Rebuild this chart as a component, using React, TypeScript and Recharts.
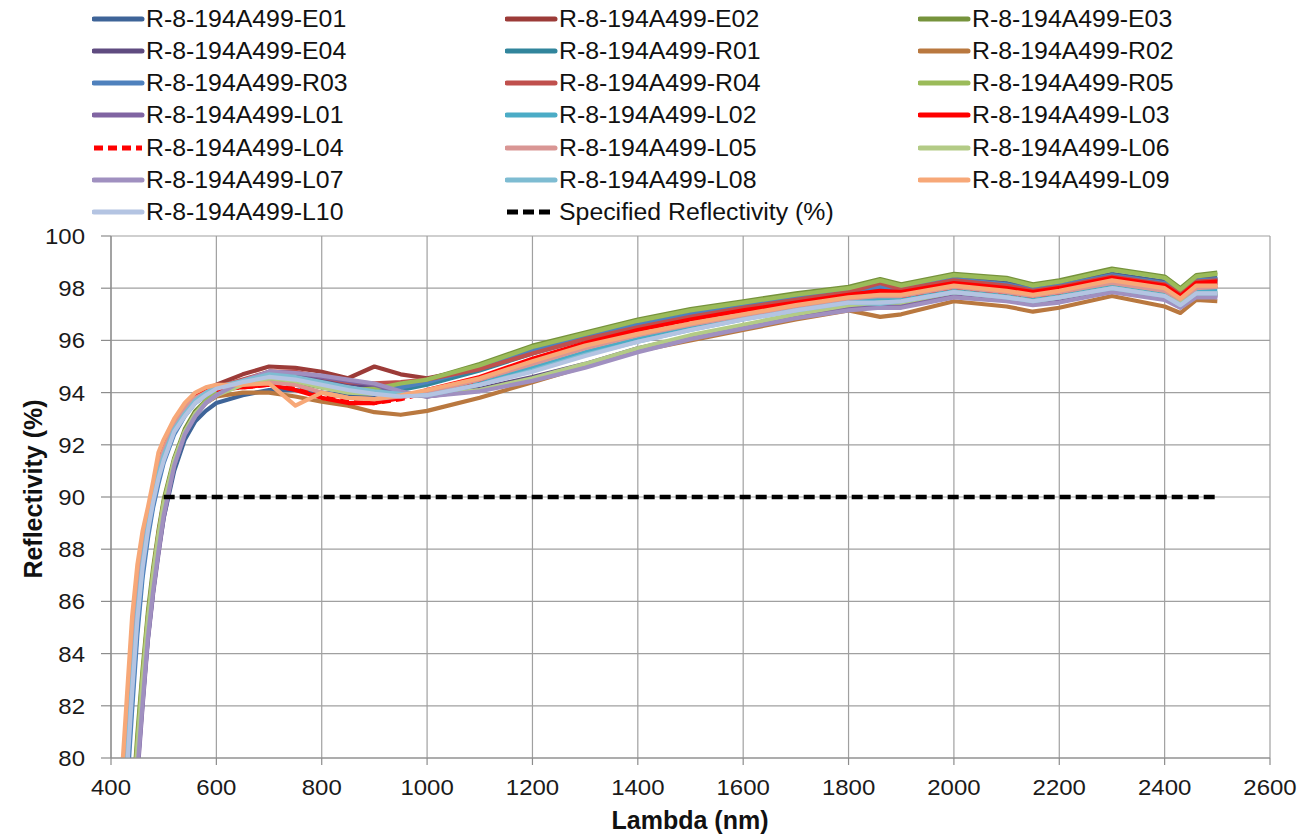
import React from "react";
import { LineChart, Line, XAxis, YAxis, CartesianGrid } from "recharts";

// wavelength samples (nm)
const LAMBDA = [420, 430, 440, 450, 460, 470, 480, 490, 500, 520, 540, 560, 580, 600, 650, 700, 750, 800, 850, 900, 950, 1000, 1100, 1200, 1300, 1400, 1500, 1600, 1700, 1800, 1860, 1900, 2000, 2100, 2150, 2200, 2300, 2400, 2430, 2460, 2500];

const E01 = [70.5, 73.5, 76.8, 79.6, 82.2, 84.6, 86.4, 87.9, 89.2, 91.0, 92.2, 92.9, 93.3, 93.6, 93.9, 94.1, 94.1, 94.0, 93.9, 93.9, 94.2, 94.4, 95.0, 95.65, 96.2, 96.65, 97.05, 97.4, 97.7, 97.95, 98.1, 98.05, 98.4, 98.2, 98.0, 98.15, 98.55, 98.25, 97.85, 98.35, 98.4];
const E02 = [76.0, 79.5, 82.6, 85.4, 87.4, 88.8, 89.9, 90.8, 91.5, 92.6, 93.3, 93.8, 94.1, 94.3, 94.7, 95.0, 94.95, 94.8, 94.55, 95.0, 94.7, 94.55, 94.95, 95.55, 96.1, 96.55, 96.95, 97.3, 97.6, 97.9, 98.1, 98.0, 98.35, 98.15, 97.95, 98.1, 98.5, 98.2, 97.85, 98.3, 98.35];
const E03 = [71.5, 74.8, 78.0, 80.9, 83.4, 85.6, 87.3, 88.7, 89.9, 91.5, 92.6, 93.3, 93.7, 94.0, 94.3, 94.5, 94.4, 94.2, 94.05, 94.1, 94.3, 94.5, 95.1, 95.8, 96.3, 96.8, 97.2, 97.5, 97.8, 98.05, 98.35, 98.15, 98.55, 98.4, 98.15, 98.3, 98.75, 98.45, 98.0, 98.5, 98.6];
const E04 = [70.8, 74.0, 77.2, 80.1, 82.7, 85.0, 86.8, 88.3, 89.6, 91.3, 92.5, 93.2, 93.7, 94.0, 94.4, 94.7, 94.65, 94.5, 94.35, 94.2, 93.95, 93.85, 94.15, 94.6, 95.1, 95.7, 96.15, 96.55, 96.95, 97.25, 97.35, 97.35, 97.75, 97.6, 97.45, 97.55, 97.95, 97.65, 97.35, 97.75, 97.75];
const R01 = [75.5, 79.0, 82.2, 85.0, 87.1, 88.6, 89.7, 90.6, 91.4, 92.5, 93.2, 93.7, 94.0, 94.2, 94.4, 94.6, 94.5, 94.3, 94.1, 94.0, 94.1, 94.3, 94.85, 95.5, 96.05, 96.5, 96.9, 97.25, 97.55, 97.85, 97.95, 97.9, 98.25, 98.05, 97.85, 98.0, 98.4, 98.1, 97.7, 98.15, 98.2];
const R02 = [71.0, 74.3, 77.6, 80.5, 83.1, 85.4, 87.1, 88.6, 89.8, 91.4, 92.5, 93.2, 93.6, 93.85, 94.0, 94.0, 93.85, 93.65, 93.5, 93.25, 93.15, 93.3, 93.8, 94.4, 95.0, 95.6, 96.0, 96.4, 96.8, 97.15, 96.9, 97.0, 97.5, 97.3, 97.1, 97.25, 97.7, 97.3, 97.05, 97.55, 97.5];
const R03 = [75.0, 78.6, 81.8, 84.7, 86.9, 88.4, 89.6, 90.5, 91.3, 92.4, 93.1, 93.6, 93.9, 94.1, 94.35, 94.55, 94.5, 94.3, 94.15, 94.05, 94.2, 94.4, 94.95, 95.6, 96.15, 96.6, 97.0, 97.35, 97.65, 97.9, 98.05, 98.0, 98.35, 98.15, 97.95, 98.1, 98.5, 98.2, 97.8, 98.3, 98.35];
const R04 = [76.5, 80.0, 83.0, 85.7, 87.6, 88.9, 90.0, 90.9, 91.6, 92.6, 93.2, 93.7, 94.0, 94.2, 94.5, 94.8, 94.8, 94.6, 94.4, 94.35, 94.4, 94.5, 94.9, 95.5, 96.05, 96.5, 96.9, 97.25, 97.55, 97.85, 98.2, 97.95, 98.3, 98.1, 97.9, 98.05, 98.45, 98.15, 97.8, 98.25, 98.3];
const R05 = [71.2, 74.5, 77.7, 80.6, 83.2, 85.4, 87.1, 88.5, 89.8, 91.4, 92.5, 93.2, 93.7, 94.0, 94.3, 94.55, 94.5, 94.3, 94.1, 94.15, 94.35, 94.5, 95.05, 95.75, 96.25, 96.75, 97.15, 97.45, 97.75, 98.0, 98.3, 98.1, 98.5, 98.35, 98.1, 98.25, 98.7, 98.4, 97.95, 98.45, 98.55];
const L01 = [70.0, 73.2, 76.5, 79.3, 82.0, 84.5, 86.3, 87.8, 89.2, 91.2, 92.4, 93.1, 93.6, 93.9, 94.4, 94.8, 94.75, 94.6, 94.45, 94.3, 94.0, 93.85, 94.1, 94.5, 95.0, 95.6, 96.1, 96.5, 96.9, 97.2, 97.3, 97.3, 97.7, 97.55, 97.4, 97.5, 97.9, 97.6, 97.3, 97.7, 97.7];
const L02 = [76.0, 79.6, 82.7, 85.4, 87.4, 88.8, 89.9, 90.8, 91.5, 92.6, 93.2, 93.7, 94.0, 94.2, 94.4, 94.65, 94.55, 94.3, 94.1, 94.0, 93.9, 93.95, 94.4, 94.95, 95.55, 96.05, 96.5, 96.9, 97.25, 97.55, 97.6, 97.6, 97.95, 97.75, 97.6, 97.75, 98.1, 97.8, 97.45, 97.9, 97.9];
const L03 = [78.5, 81.8, 84.8, 87.0, 88.4, 89.4, 90.4, 91.4, 92.0, 92.9, 93.5, 93.9, 94.1, 94.2, 94.2, 94.3, 94.1, 93.8, 93.6, 93.6, 93.8, 94.1, 94.6, 95.3, 95.9, 96.4, 96.8, 97.15, 97.45, 97.75, 97.9, 97.85, 98.2, 98.0, 97.85, 98.0, 98.4, 98.1, 97.7, 98.2, 98.25];
const L04 = [78.0, 81.4, 84.4, 86.7, 88.2, 89.3, 90.3, 91.3, 91.9, 92.8, 93.4, 93.8, 94.0, 94.1, 94.2, 94.3, 94.15, 93.85, 93.65, 93.6, 93.75, 94.0, 94.5, 95.15, 95.75, 96.25, 96.65, 97.0, 97.3, 97.6, 97.75, 97.7, 98.05, 97.85, 97.7, 97.85, 98.25, 97.95, 97.6, 98.05, 98.1];
const L05 = [77.8, 81.2, 84.2, 86.6, 88.1, 89.2, 90.2, 91.2, 91.8, 92.8, 93.4, 93.8, 94.0, 94.2, 94.3, 94.4, 94.3, 94.0, 93.8, 93.75, 93.85, 94.0, 94.5, 95.1, 95.7, 96.2, 96.6, 96.95, 97.3, 97.6, 97.7, 97.7, 98.05, 97.85, 97.7, 97.85, 98.2, 97.9, 97.55, 98.0, 98.05];
const L06 = [71.0, 74.2, 77.4, 80.3, 82.9, 85.2, 87.0, 88.5, 89.7, 91.4, 92.5, 93.2, 93.6, 93.9, 94.3, 94.55, 94.45, 94.2, 94.0, 93.95, 93.9, 93.9, 94.1, 94.55, 95.1, 95.7, 96.2, 96.6, 97.0, 97.35, 97.45, 97.45, 97.85, 97.65, 97.5, 97.65, 98.0, 97.7, 97.4, 97.8, 97.8];
const L07 = [70.2, 73.4, 76.7, 79.5, 82.1, 84.6, 86.4, 87.9, 89.3, 91.2, 92.4, 93.1, 93.6, 93.9, 94.45, 94.8, 94.75, 94.65, 94.5, 94.35, 94.05, 93.85, 94.05, 94.45, 94.95, 95.55, 96.05, 96.45, 96.85, 97.15, 97.25, 97.25, 97.65, 97.5, 97.35, 97.45, 97.85, 97.55, 97.25, 97.65, 97.65];
const L08 = [76.2, 79.8, 82.9, 85.6, 87.5, 88.9, 90.0, 90.9, 91.6, 92.6, 93.2, 93.7, 94.0, 94.2, 94.45, 94.7, 94.6, 94.4, 94.2, 94.05, 93.95, 93.9, 94.3, 94.85, 95.45, 95.95, 96.4, 96.8, 97.15, 97.45, 97.4, 97.5, 97.85, 97.65, 97.5, 97.65, 98.0, 97.7, 97.35, 97.8, 97.8];
const L09 = [79.2, 82.3, 85.4, 87.4, 88.7, 89.6, 90.6, 91.7, 92.2, 93.0, 93.6, 94.0, 94.2, 94.3, 94.3, 94.35, 93.5, 94.0, 93.8, 93.75, 93.9, 94.1, 94.55, 95.2, 95.8, 96.25, 96.65, 97.0, 97.35, 97.65, 97.75, 97.75, 98.1, 97.9, 97.75, 97.9, 98.3, 98.0, 97.6, 98.1, 98.1];
const L10 = [75.8, 79.4, 82.5, 85.3, 87.3, 88.7, 89.8, 90.7, 91.4, 92.5, 93.1, 93.6, 93.9, 94.15, 94.4, 94.6, 94.5, 94.3, 94.1, 93.95, 93.85, 93.9, 94.3, 94.8, 95.4, 95.95, 96.4, 96.8, 97.15, 97.45, 97.45, 97.5, 97.85, 97.65, 97.5, 97.65, 98.0, 97.7, 97.35, 97.8, 97.8];
// specified reflectivity, 500 - 2500 nm
const SPEC = [null, null, null, null, null, null, null, null, 90, 90, 90, 90, 90, 90, 90, 90, 90, 90, 90, 90, 90, 90, 90, 90, 90, 90, 90, 90, 90, 90, 90, 90, 90, 90, 90, 90, 90, 90, 90, 90, 90];

const X_TICKS = [400, 600, 800, 1000, 1200, 1400, 1600, 1800, 2000, 2200, 2400, 2600];
const Y_TICKS = [80, 82, 84, 86, 88, 90, 92, 94, 96, 98, 100];

const SERIES = [
  { key: "E01", name: "R-8-194A499-E01", values: E01, color: "#3E6498" },
  { key: "E02", name: "R-8-194A499-E02", values: E02, color: "#9C3B38" },
  { key: "E03", name: "R-8-194A499-E03", values: E03, color: "#76933C" },
  { key: "E04", name: "R-8-194A499-E04", values: E04, color: "#5F4B80" },
  { key: "R01", name: "R-8-194A499-R01", values: R01, color: "#31859C" },
  { key: "R02", name: "R-8-194A499-R02", values: R02, color: "#B9783F" },
  { key: "R03", name: "R-8-194A499-R03", values: R03, color: "#4F81BD" },
  { key: "R04", name: "R-8-194A499-R04", values: R04, color: "#C0504D" },
  { key: "R05", name: "R-8-194A499-R05", values: R05, color: "#9BBB59" },
  { key: "L01", name: "R-8-194A499-L01", values: L01, color: "#8064A2" },
  { key: "L02", name: "R-8-194A499-L02", values: L02, color: "#4BACC6" },
  { key: "L03", name: "R-8-194A499-L03", values: L03, color: "#FF0000" },
  { key: "L04", name: "R-8-194A499-L04", values: L04, color: "#FF0000", dash: "9 5" },
  { key: "L05", name: "R-8-194A499-L05", values: L05, color: "#D99694" },
  { key: "L06", name: "R-8-194A499-L06", values: L06, color: "#B3CB86" },
  { key: "L07", name: "R-8-194A499-L07", values: L07, color: "#A090C0" },
  { key: "L08", name: "R-8-194A499-L08", values: L08, color: "#7EBCD2" },
  { key: "L09", name: "R-8-194A499-L09", values: L09, color: "#F7A878" },
  { key: "L10", name: "R-8-194A499-L10", values: L10, color: "#B4C4E2" },
  { key: "SPEC", name: "Specified Reflectivity (%)", values: SPEC, color: "#000000", dash: "11 5" },
];

const data = LAMBDA.map((l, i) => {
  const row: any = { lambda: l };
  SERIES.forEach((s) => (row[s.key] = s.values[i]));
  return row;
});

const FONT = "'Liberation Sans', Arial, sans-serif";

const YTick = ({ x, y, payload }: any) => (
  <text transform={`translate(${x},${y}) scale(1.09,1)`} textAnchor="end" dy="0.36em" fontSize={22} fill="#1a1a1a" fontFamily={FONT}>
    {payload.value}
  </text>
);

const XTick = ({ x, y, payload }: any) => (
  <text transform={`translate(${x},${y}) scale(1.09,1)`} textAnchor="middle" dy="0.71em" fontSize={22} fill="#1a1a1a" fontFamily={FONT}>
    {payload.value}
  </text>
);

const COL_X = [92, 505, 918];
const ROW_Y = [19, 51, 83, 115, 148, 180, 212];

function ChartLegend() {
  return (
    <>
      {SERIES.map((s, i) => {
        const col = i % 3;
        const row = Math.floor(i / 3);
        return (
          <div
            key={s.key}
            style={{ position: "absolute", left: COL_X[col], top: ROW_Y[row] - 16, height: 32, display: "flex", alignItems: "center", whiteSpace: "nowrap" }}
          >
            <svg width={54} height={10} style={{ display: "block" }}>
              <line x1={2} y1={5} x2={50} y2={5} stroke={s.color} strokeWidth={5} strokeLinecap={s.dash ? "butt" : "round"} strokeDasharray={s.dash} />
            </svg>
            <span style={{ fontFamily: FONT, fontSize: 23, color: "#111", display: "inline-block", transform: "scaleX(1.08)", transformOrigin: "left center" }}>
              {s.name}
            </span>
          </div>
        );
      })}
    </>
  );
}

export default function App() {
  return (
    <div style={{ position: "absolute", left: 0, top: 0, width: 1303, height: 837, background: "#fff" }}>
      <ChartLegend />
      <LineChart width={1303} height={837} data={data} margin={{ top: 236, right: 33, bottom: 0, left: 0 }}>
        <CartesianGrid stroke="#a0a0a0" strokeWidth={1.2} />
        <XAxis
          dataKey="lambda"
          type="number"
          domain={[400, 2600]}
          ticks={X_TICKS}
          height={79}
          tickSize={7}
          tickMargin={14}
          tick={<XTick />}
          stroke="#8c8c8c"
          strokeWidth={1.2}
          label={{
            content: () => (
              <text x={690} y={829} textAnchor="middle" fontSize={25} fontWeight="bold" fontFamily={FONT} fill="#111">
                Lambda (nm)
              </text>
            ),
          }}
        />
        <YAxis
          type="number"
          domain={[80, 100]}
          ticks={Y_TICKS}
          allowDataOverflow
          width={111}
          tickSize={10}
          tickMargin={16}
          tick={<YTick />}
          stroke="#8c8c8c"
          strokeWidth={1.2}
          label={{
            content: () => (
              <text x={42} y={489} transform="rotate(-90 42 489)" textAnchor="middle" fontSize={25} fontWeight="bold" fontFamily={FONT} fill="#111">
                Reflectivity (%)
              </text>
            ),
          }}
        />
        {SERIES.map((s) => (
          <Line
            key={s.key}
            dataKey={s.key}
            name={s.name}
            type="linear"
            stroke={s.color}
            strokeWidth={s.key === "SPEC" ? 4.5 : 4.2}
            strokeDasharray={s.dash}
            strokeLinejoin="round"
            dot={false}
            activeDot={false}
            connectNulls={false}
            isAnimationActive={false}
          />
        ))}
      </LineChart>
    </div>
  );
}
